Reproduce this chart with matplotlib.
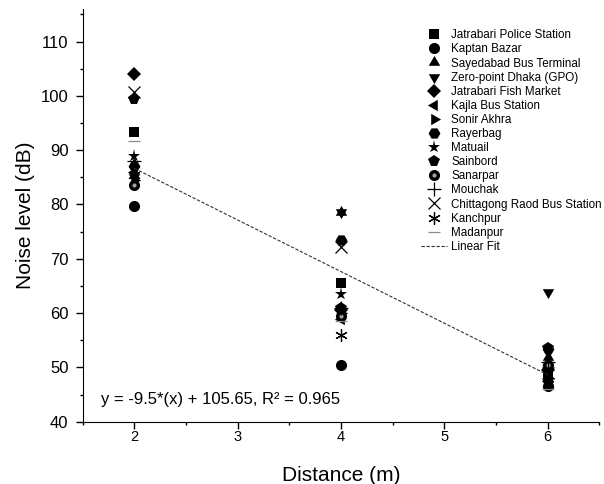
import numpy as np
import matplotlib
matplotlib.use("Agg")
import matplotlib.pyplot as plt
from matplotlib.ticker import MultipleLocator
from matplotlib.legend_handler import HandlerTuple

plt.rcParams['font.family'] = ['Liberation Sans', 'DejaVu Sans']

distances = [2, 4, 6]
stations = [
    "Jatrabari Police Station", "Kaptan Bazar", "Sayedabad Bus Terminal",
    "Zero-point Dhaka (GPO)", "Jatrabari Fish Market", "Kajla Bus Station",
    "Sonir Akhra", "Rayerbag", "Matuail", "Sainbord", "Sanarpar", "Mouchak",
    "Chittagong Raod Bus Station", "Kanchpur", "Madanpur",
]
jatrabari_police = [93.4, 65.5, 48.5]
kaptan_bazar = [79.8, 50.4, 46.5]
sayedabad = [87.5, 78.7, 52.0]
zero_point = [85.0, 78.7, 63.9]
fish_market = [104.0, 60.5, 49.5]
kajla = [86.0, 59.0, 47.5]
sonir_akhra = [84.5, 60.0, 48.0]
rayerbag = [87.0, 73.5, 53.3]
matuail = [89.0, 63.5, 50.0]
sainbord = [99.4, 61.0, 53.5]
sanarpar = [83.6, 59.5, 50.5]
mouchak = [88.0, 61.0, 51.0]
chittagong = [100.7, 72.2, 49.0]
kanchpur = [85.5, 56.0, 47.0]
madanpur = [91.7, 58.5, 46.0]
series = [jatrabari_police, kaptan_bazar, sayedabad, zero_point, fish_market,
          kajla, sonir_akhra, rayerbag, matuail, sainbord, sanarpar, mouchak,
          chittagong, kanchpur, madanpur]
fit_slope = -9.5
fit_intercept = 105.65
fit_text = "y = -9.5*(x) + 105.65, R\u00b2 = 0.965"

# centroid-centred triangles (Origin style)
tri_up = [(0, 1), (-0.866, -0.5), (0.866, -0.5), (0, 1)]
tri_down = [(0, -1), (-0.866, 0.5), (0.866, 0.5), (0, -1)]
tri_left = [(-1, 0), (0.5, 0.866), (0.5, -0.866), (-1, 0)]
tri_right = [(1, 0), (-0.5, 0.866), (-0.5, -0.866), (1, 0)]

markers = ['s', 'o', tri_up, tri_down, 'D', tri_left, tri_right, 'H', '*', 'p',
           'o', '+', 'x', (6, 2, 0), '_']
msizes = [7, 8, 9.5, 9.5, 7.5, 9.5, 9.5, 8.5, 9.5, 8.5, 8, 10, 9, 9, 9]
line_marks = {11, 12, 13, 14}

fig = plt.figure(figsize=(6.04, 4.84), dpi=100)
ax = fig.add_axes([0.137, 0.1287, 0.855, 0.8527])

handles = []
for i, (name, vals, m, ms) in enumerate(zip(stations, series, markers, msizes)):
    if name == "Sanarpar":
        h1, = ax.plot(distances, vals, linestyle='none', marker='o', markersize=ms,
                      color='black', markeredgewidth=0)
        h2, = ax.plot(distances, vals, linestyle='none', marker='o', markersize=3,
                      color='#a0a0a0', markeredgewidth=0)
        handles.append((h1, h2))
    elif i in line_marks:
        h, = ax.plot(distances, vals, linestyle='none', marker=m, markersize=ms,
                     color='black' if m != '_' else '#8a8a8a', markeredgewidth=0.9)
        handles.append(h)
    else:
        h, = ax.plot(distances, vals, linestyle='none', marker=m, markersize=ms,
                     color='black', markeredgewidth=0)
        handles.append(h)

xf = np.array([distances[0], distances[-1]])
hfit, = ax.plot(xf, fit_slope * xf + fit_intercept, color='#333333', lw=0.8,
                linestyle=(0, (3, 1.5)))
handles.append(hfit)
labels = stations + ['Linear Fit']

ax.text(1.68, 44.0, fit_text, fontsize=12, va='center', ha='left')

ax.set_xlim(1.5, 6.5)
ax.set_ylim(40, 116)
ax.xaxis.set_major_locator(MultipleLocator(1))
ax.xaxis.set_minor_locator(MultipleLocator(0.5))
ax.set_yticks([40, 50, 60, 70, 80, 90, 100, 110])
ax.yaxis.set_minor_locator(MultipleLocator(5))
ax.tick_params(which='major', direction='out', length=4.8, width=1)
ax.tick_params(which='minor', direction='out', length=2.4, width=1)
ax.tick_params(axis='y', which='major', labelsize=12, pad=5.5)
ax.tick_params(axis='x', which='major', labelsize=10.5, pad=1.5)
ax.spines['top'].set_visible(False)
ax.spines['right'].set_visible(False)
ax.set_xlabel("Distance (m)", fontsize=15)
ax.set_ylabel("Noise level (dB)", fontsize=15)
ax.xaxis.set_label_coords(0.5, -0.108)

ax.legend(handles, labels, loc='upper left', bbox_to_anchor=(0.645, 0.962),
          frameon=False, fontsize=8.4, labelspacing=0.18, handlelength=2.3,
          handletextpad=0.35, borderaxespad=0,
          handler_map={tuple: HandlerTuple(ndivide=1)})

fig.savefig("out.png", dpi=100)
